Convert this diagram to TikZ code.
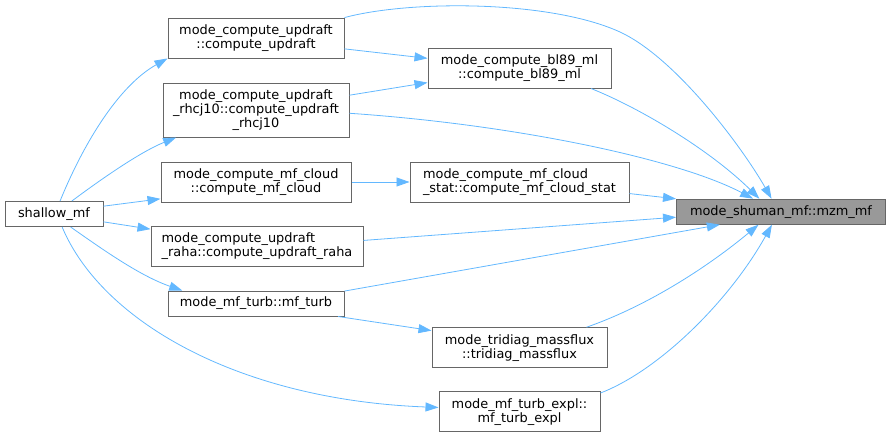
\documentclass[tikz,border=0pt]{standalone}
\usepackage{fontspec}
\setmainfont{DejaVu Sans}
\usetikzlibrary{arrows.meta,calc}

\definecolor{edgeblue}{HTML}{63B8FF}
\definecolor{boxgray}{HTML}{666666}
\definecolor{hlgray}{HTML}{999999}

\tikzset{
    fn/.style={draw=boxgray, line width=1pt, fill=white, inner sep=0pt, align=center,
        font=\fontsize{12.9}{14}\selectfont},
    call/.style={draw=edgeblue, line width=0.8pt, -{Triangle[length=13pt,width=9pt]}},
}

\begin{document}
\begin{tikzpicture}[x=1pt, y=-1pt]
        \useasboundingbox (0,0) rectangle (891,437);

        \node[fn, minimum width=98pt, minimum height=25pt] (shallow) at (54,214) {shallow\_mf};

        \node[fn, minimum width=176pt, minimum height=40pt] (cupd) at (256,38) {mode\_compute\_updraft\\::compute\_updraft};
        \node[fn, minimum width=186pt, minimum height=54pt] (rhcj) at (256,110) {mode\_compute\_updraft\\\_rhcj10::compute\_updraft\\\_rhcj10};
        \node[fn, minimum width=190pt, minimum height=40pt] (mfcl) at (256,182) {mode\_compute\_mf\_cloud\\::compute\_mf\_cloud};
        \node[fn, align=left, minimum width=212pt, minimum height=40pt] (raha) at (257,246) {mode\_compute\_updraft\\\_raha::compute\_updraft\_raha};
        \node[fn, minimum width=176pt, minimum height=25pt] (turb) at (256,303.5) {mode\_mf\_turb::mf\_turb};

        \node[fn, minimum width=183pt, minimum height=40pt] (bl89) at (519.5,68) {mode\_compute\_bl89\_ml\\::compute\_bl89\_ml};
        \node[fn, align=left, minimum width=219pt, minimum height=40pt] (cstat) at (519.5,182) {mode\_compute\_mf\_cloud\\\_stat::compute\_mf\_cloud\_stat};
        \node[fn, minimum width=175pt, minimum height=40pt] (tridiag) at (519.5,347.7) {mode\_tridiag\_massflux\\::tridiag\_massflux};
        \node[fn, minimum width=161pt, minimum height=40pt] (expl) at (519.5,411.7) {mode\_mf\_turb\_expl::\\mf\_turb\_expl};

        \node[fn, fill=hlgray, minimum width=209pt, minimum height=25pt] (mzm) at (781,211.7) {mode\_shuman\_mf::mzm\_mf};

        \draw [call] (shallow.65) .. controls (85,140) and (120,85) .. (cupd.193);
        \draw [call] (shallow.36) .. controls (100,180) and (140,152) .. (rhcj.199);
        \draw [call] (shallow.9) -- (mfcl.190);
        \draw [call] (shallow.-9) -- (raha.171);
        \draw [call] (shallow.-38) .. controls (102,249) and (140,276) .. (turb.170);
        \draw [call] (shallow.-58) .. controls (102,322) and (240,400) .. (expl.177);

        \draw [call] (cupd.-7) -- (bl89.174);
        \draw [call] (rhcj.9) -- (bl89.189);
        \draw [call] (mfcl.east) -- (cstat.west);
        \draw [call] (turb.-9.4) -- (tridiag.169.6);

        \draw [call] (cupd.13) .. controls (410,0) and (550,0) .. (620,32)
            .. controls (676,58) and (742,147) .. (mzm.126);
        \draw [call] (bl89.-16.5) .. controls (640,108) and (710,150) .. (mzm.149);
        \draw [call] (rhcj.-2) .. controls (520,125) and (680,160) .. (mzm.155);
        \draw [call] (cstat.-6) -- (mzm.173.5);
        \draw [call] (raha.3.6) -- (mzm.183.6);
        \draw [call] (turb.8.7) -- (mzm.192);
        \draw [call] (tridiag.17.3) .. controls (650,305) and (710,265) .. (mzm.210);
        \draw [call] (expl.13) .. controls (660,370) and (730,300) .. (mzm.235);
    \end{tikzpicture}
\end{document}
